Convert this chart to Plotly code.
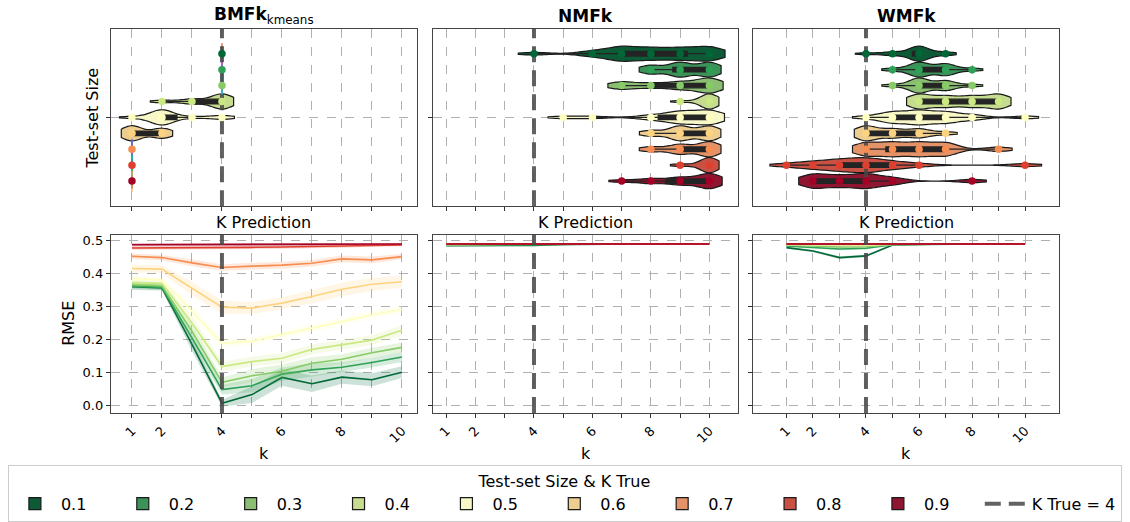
import colorsys
import numpy as np
import plotly.graph_objects as go
from plotly.subplots import make_subplots

# ---------------- data ----------------
METHOD_TITLES = ["<b>BMFk</b><sub>kmeans</sub>", "<b>NMFk</b>", "<b>WMFk</b>"]
TEST_SIZES = ["0.1", "0.2", "0.3", "0.4", "0.5", "0.6", "0.7", "0.8", "0.9"]
K_VALUES = [1, 2, 3, 4, 5, 6, 7, 8, 9, 10]
K_LABELLED = [1, 2, 4, 6, 8, 10]
K_TRUE = 4

# number of runs predicting k = 1..10, one row per test-set size
BMFK_K_COUNTS = [
    [0, 0, 0, 10, 0, 0, 0, 0, 0, 0],
    [0, 0, 0, 10, 0, 0, 0, 0, 0, 0],
    [0, 0, 0, 10, 0, 0, 0, 0, 0, 0],
    [0, 1, 2, 6, 0, 0, 0, 0, 0, 0],
    [1, 8, 1, 2, 0, 0, 0, 0, 0, 0],
    [6, 4, 0, 0, 0, 0, 0, 0, 0, 0],
    [10, 0, 0, 0, 0, 0, 0, 0, 0, 0],
    [10, 0, 0, 0, 0, 0, 0, 0, 0, 0],
    [10, 0, 0, 0, 0, 0, 0, 0, 0, 0],
]
NMFK_K_COUNTS = [
    [0, 0, 0, 1, 0, 2, 5, 4, 4, 5],
    [0, 0, 0, 0, 0, 0, 0, 3, 5, 5],
    [0, 0, 0, 0, 0, 0, 3, 2, 3, 6],
    [0, 0, 0, 0, 0, 0, 0, 0, 1, 8],
    [0, 0, 0, 0, 1, 1, 0, 2, 5, 6],
    [0, 0, 0, 0, 0, 0, 0, 2, 5, 5],
    [0, 0, 0, 0, 0, 0, 0, 2, 4, 6],
    [0, 0, 0, 0, 0, 0, 0, 0, 1, 6],
    [0, 0, 0, 0, 0, 0, 1, 2, 3, 6],
]
WMFK_K_COUNTS = [
    [0, 0, 0, 1, 2, 8, 2, 0, 0, 0],
    [0, 0, 0, 0, 1, 5, 4, 1, 0, 0],
    [0, 0, 0, 0, 1, 6, 4, 1, 0, 0],
    [0, 0, 0, 0, 0, 4, 3, 3, 4, 0],
    [0, 0, 0, 1, 4, 5, 4, 2, 0, 1],
    [0, 0, 0, 5, 3, 3, 1, 0, 0, 0],
    [0, 0, 0, 3, 3, 3, 3, 0, 1, 0],
    [1, 2, 3, 4, 2, 1, 0, 0, 0, 1],
    [0, 4, 3, 4, 2, 0, 0, 1, 0, 0],
]

# mean RMSE for k = 1..10, one row per test-set size
BMFK_RMSE = [
    [0.360, 0.356, 0.185, 0.007, 0.033, 0.085, 0.066, 0.086, 0.078, 0.101],
    [0.362, 0.358, 0.205, 0.048, 0.060, 0.095, 0.108, 0.116, 0.130, 0.147],
    [0.366, 0.363, 0.225, 0.070, 0.090, 0.104, 0.128, 0.140, 0.160, 0.176],
    [0.373, 0.370, 0.250, 0.118, 0.133, 0.143, 0.170, 0.185, 0.198, 0.228],
    [0.385, 0.380, 0.285, 0.188, 0.195, 0.214, 0.234, 0.254, 0.275, 0.291],
    [0.415, 0.413, 0.355, 0.298, 0.295, 0.310, 0.330, 0.352, 0.367, 0.375],
    [0.452, 0.448, 0.432, 0.418, 0.422, 0.425, 0.431, 0.444, 0.441, 0.451],
    [0.477, 0.477, 0.478, 0.478, 0.479, 0.480, 0.481, 0.483, 0.485, 0.486],
    [0.487, 0.487, 0.487, 0.488, 0.488, 0.488, 0.488, 0.489, 0.489, 0.489],
]
BMFK_RMSE_CI = [
    [0.010, 0.008, 0.020, 0.010, 0.025, 0.025, 0.025, 0.020, 0.020, 0.018],
    [0.008, 0.008, 0.020, 0.015, 0.020, 0.020, 0.020, 0.015, 0.015, 0.015],
    [0.008, 0.008, 0.020, 0.015, 0.020, 0.020, 0.018, 0.015, 0.015, 0.015],
    [0.008, 0.008, 0.020, 0.015, 0.015, 0.015, 0.015, 0.015, 0.015, 0.015],
    [0.008, 0.008, 0.020, 0.012, 0.012, 0.012, 0.012, 0.012, 0.012, 0.012],
    [0.012, 0.012, 0.020, 0.020, 0.018, 0.018, 0.020, 0.020, 0.020, 0.018],
    [0.008, 0.008, 0.010, 0.010, 0.010, 0.010, 0.010, 0.010, 0.010, 0.008],
    [0.005, 0.005, 0.005, 0.005, 0.005, 0.005, 0.005, 0.005, 0.004, 0.004],
    [0.005, 0.005, 0.004, 0.004, 0.004, 0.004, 0.004, 0.003, 0.003, 0.003],
]
NMFK_RMSE = [
    [0.484, 0.484, 0.484, 0.485, 0.488, 0.489, 0.489, 0.489, 0.489, 0.489],
    [0.486, 0.486, 0.486, 0.487, 0.488, 0.489, 0.489, 0.489, 0.489, 0.489],
    [0.487, 0.487, 0.487, 0.488, 0.489, 0.489, 0.489, 0.489, 0.489, 0.489],
    [0.488, 0.488, 0.488, 0.488, 0.489, 0.489, 0.489, 0.489, 0.489, 0.489],
    [0.488, 0.488, 0.488, 0.489, 0.489, 0.489, 0.489, 0.489, 0.489, 0.489],
    [0.489, 0.489, 0.489, 0.489, 0.489, 0.489, 0.489, 0.489, 0.489, 0.489],
    [0.489, 0.489, 0.489, 0.489, 0.489, 0.489, 0.489, 0.489, 0.489, 0.489],
    [0.489, 0.489, 0.489, 0.489, 0.489, 0.489, 0.489, 0.489, 0.489, 0.489],
    [0.489, 0.489, 0.489, 0.489, 0.489, 0.489, 0.489, 0.489, 0.489, 0.489],
]
NMFK_RMSE_CI = [
    [0.002, 0.002, 0.002, 0.002, 0.001, 0.001, 0.001, 0.001, 0.001, 0.001],
] + [[0.001] * 10 for _ in range(8)]
WMFK_RMSE = [
    [0.478, 0.468, 0.448, 0.453, 0.486, 0.488, 0.489, 0.489, 0.489, 0.489],
    [0.483, 0.479, 0.474, 0.476, 0.487, 0.488, 0.489, 0.489, 0.489, 0.489],
    [0.486, 0.483, 0.480, 0.481, 0.488, 0.489, 0.489, 0.489, 0.489, 0.489],
    [0.487, 0.486, 0.484, 0.485, 0.488, 0.489, 0.489, 0.489, 0.489, 0.489],
    [0.488, 0.487, 0.486, 0.487, 0.489, 0.489, 0.489, 0.489, 0.489, 0.489],
    [0.489, 0.488, 0.488, 0.488, 0.489, 0.489, 0.489, 0.489, 0.489, 0.489],
    [0.489, 0.489, 0.489, 0.489, 0.489, 0.489, 0.489, 0.489, 0.489, 0.489],
    [0.489, 0.489, 0.489, 0.489, 0.489, 0.489, 0.489, 0.489, 0.489, 0.489],
    [0.489, 0.489, 0.489, 0.489, 0.489, 0.489, 0.489, 0.489, 0.489, 0.489],
]
WMFK_RMSE_CI = [
    [0.003, 0.004, 0.004, 0.004, 0.002, 0.001, 0.001, 0.001, 0.001, 0.001],
    [0.003, 0.004, 0.004, 0.004, 0.002, 0.001, 0.001, 0.001, 0.001, 0.001],
    [0.003, 0.003, 0.003, 0.003, 0.002, 0.001, 0.001, 0.001, 0.001, 0.001],
] + [[0.001] * 10 for _ in range(6)]

K_COUNTS = [BMFK_K_COUNTS, NMFK_K_COUNTS, WMFK_K_COUNTS]
RMSE = [BMFK_RMSE, NMFK_RMSE, WMFK_RMSE]
RMSE_CI = [BMFK_RMSE_CI, NMFK_RMSE_CI, WMFK_RMSE_CI]

# ---------------- style ----------------
PALETTE = ["#006837", "#2da155", "#86cb66", "#cbe982", "#ffffbf",
           "#fed380", "#f88d52", "#de3f2e", "#a50026"]
FONT = "DejaVu Sans"
GRID = "#b0b0b0"
SPINE = "#444444"
KLINE_COLOR = "rgba(70,70,70,0.85)"
X_RANGES = [[0.3, 10.5], [0.545, 10.98], [-0.26, 11.28]]
X_DOMAINS = [[0.0982, 0.3690], [0.3832, 0.6531], [0.6664, 0.9372]]
TOP_DOMAIN = [0.6073, 0.9489]
BOT_DOMAIN = [0.2094, 0.5517]
TOP_Y_RANGE = [9.58, -1.58]
BOT_Y_RANGE = [-0.023, 0.516]
LEGEND_PAD = "\u00a0" * 5


def hex_rgb(h):
    h = h.lstrip("#")
    return tuple(int(h[i:i + 2], 16) for i in (0, 2, 4))


def desaturate(h, prop=0.75):
    r, g, b = [v / 255 for v in hex_rgb(h)]
    hh, ll, ss = colorsys.rgb_to_hls(r, g, b)
    r, g, b = colorsys.hls_to_rgb(hh, ll, ss * prop)
    return "rgb(%d,%d,%d)" % (round(r * 255), round(g * 255), round(b * 255))


def rgba(h, a):
    r, g, b = hex_rgb(h)
    return "rgba(%d,%d,%d,%s)" % (r, g, b, a)


fig = make_subplots(rows=2, cols=3)

for c in range(3):
    # ---- top row: violins of predicted k ----
    for i, size in enumerate(TEST_SIZES):
        counts = K_COUNTS[c][i]
        vals = np.repeat(K_VALUES, counts)
        spread = len(set(vals.tolist())) > 1
        vkw = {}
        if spread:
            bw = 0.25 + 0.15 * float(np.std(vals))
            ext = 1.1 * bw
            vkw = dict(bandwidth=bw, spanmode="manual",
                       span=[float(vals.min()) - ext, float(vals.max()) + ext])
        fig.add_trace(go.Violin(
            x=vals, y0=i, orientation="h", name=size + LEGEND_PAD, legendgroup=size,
            showlegend=(c == 0), fillcolor=desaturate(PALETTE[i]),
            line=dict(color="#1a1a1a", width=1.2), width=0.95,
            scalemode="width", points=False,
            box=dict(visible=True, width=0.3, fillcolor="#242424",
                     line=dict(color="#242424", width=1.3)),
            meanline=dict(visible=False), hoverinfo="skip", **vkw),
            row=1, col=c + 1)
        if not spread:
            # a single repeated prediction is drawn as a flat line, like the reference
            fig.add_trace(go.Scatter(
                x=[vals[0]], y=[i], mode="markers", showlegend=False,
                marker=dict(symbol="line-ns-open", size=15,
                            line=dict(color="#1a1a1a", width=1.3)),
                hoverinfo="skip"), row=1, col=c + 1)
    fig.add_trace(go.Scatter(
        x=[K_TRUE, K_TRUE], y=TOP_Y_RANGE, mode="lines", name="K True = 4",
        showlegend=(c == 0), line=dict(color=KLINE_COLOR, width=4, dash="16px,8px"),
        hoverinfo="skip"), row=1, col=c + 1)
    for i, size in enumerate(TEST_SIZES):
        counts = K_COUNTS[c][i]
        ks = [k for k, n in zip(K_VALUES, counts) if n > 0]
        fig.add_trace(go.Scatter(
            x=ks, y=[i] * len(ks), mode="markers", showlegend=False,
            marker=dict(color=PALETTE[i], size=7.5, line=dict(width=0)),
            hoverinfo="skip"), row=1, col=c + 1)

    # ---- bottom row: RMSE vs k ----
    for i, size in enumerate(TEST_SIZES):
        mean = np.array(RMSE[c][i])
        ci = np.array(RMSE_CI[c][i])
        fig.add_trace(go.Scatter(
            x=K_VALUES, y=mean - ci, mode="lines", line=dict(width=0),
            showlegend=False, hoverinfo="skip"), row=2, col=c + 1)
        fig.add_trace(go.Scatter(
            x=K_VALUES, y=mean + ci, mode="lines", line=dict(width=0),
            fill="tonexty", fillcolor=rgba(PALETTE[i], 0.2),
            showlegend=False, hoverinfo="skip"), row=2, col=c + 1)
        fig.add_trace(go.Scatter(
            x=K_VALUES, y=mean, mode="lines", line=dict(color=PALETTE[i], width=1.6),
            showlegend=False, hoverinfo="skip"), row=2, col=c + 1)
    fig.add_trace(go.Scatter(
        x=[K_TRUE, K_TRUE], y=BOT_Y_RANGE, mode="lines", showlegend=False,
        line=dict(color=KLINE_COLOR, width=4, dash="16px,8px"),
        hoverinfo="skip"), row=2, col=c + 1)

axis_common = dict(showline=True, mirror=True, linecolor=SPINE, linewidth=1.3,
                   ticks="outside", ticklen=4, tickwidth=1, tickcolor="#333",
                   showgrid=True, gridcolor=GRID, griddash="dash", gridwidth=0.8,
                   zeroline=False, tickfont=dict(family=FONT, size=13, color="black"))
minor_k = dict(tickvals=[k for k in K_VALUES if k not in K_LABELLED], ticks="outside",
               ticklen=4, tickwidth=1, tickcolor="#333", showgrid=True,
               gridcolor=GRID, griddash="dash", gridwidth=0.8)

for c in range(3):
    top_x = "xaxis" if c == 0 else "xaxis%d" % (c + 1)
    top_y = "yaxis" if c == 0 else "yaxis%d" % (c + 1)
    bot_x = "xaxis%d" % (c + 4)
    bot_y = "yaxis%d" % (c + 4)
    fig.layout[top_x].update(domain=X_DOMAINS[c], range=X_RANGES[c], tickvals=K_VALUES,
                             showticklabels=False, anchor="y" if c == 0 else "y%d" % (c + 1),
                             **axis_common)
    fig.layout[bot_x].update(domain=X_DOMAINS[c], range=X_RANGES[c], tickmode="array",
                             tickvals=K_LABELLED, ticktext=[str(k) for k in K_LABELLED],
                             tickangle=-45, minor=minor_k,
                             anchor="y%d" % (c + 4), **axis_common)
    fig.layout[top_y].update(domain=TOP_DOMAIN, range=TOP_Y_RANGE, type="linear",
                             tickvals=[TEST_SIZES.index("0.5")], showticklabels=False,
                             anchor="x" if c == 0 else "x%d" % (c + 1), **axis_common)
    fig.layout[bot_y].update(domain=BOT_DOMAIN, range=BOT_Y_RANGE, tick0=0, dtick=0.1,
                             tickformat=".1f", showticklabels=(c == 0),
                             anchor="x%d" % (c + 4), **axis_common)

centers = [(d[0] + d[1]) / 2 for d in X_DOMAINS]
ann = []
for c in range(3):
    ann.append(dict(text=METHOD_TITLES[c], x=centers[c], y=0.9732, xref="paper", yref="paper",
                    showarrow=False, font=dict(family=FONT, size=17, color="black"),
                    xanchor="center", yanchor="middle"))
    ann.append(dict(text="K Prediction", x=centers[c], y=0.5766, xref="paper", yref="paper",
                    showarrow=False, font=dict(family=FONT, size=16, color="black"),
                    xanchor="center", yanchor="middle"))
    ann.append(dict(text="k", x=centers[c], y=0.1322, xref="paper", yref="paper",
                    showarrow=False, font=dict(family=FONT, size=16, color="black"),
                    xanchor="center", yanchor="middle"))
ann.append(dict(text="Test-set Size", x=0.0823, y=0.7778, xref="paper", yref="paper",
                textangle=-90, showarrow=False, font=dict(family=FONT, size=16, color="black"),
                xanchor="center", yanchor="middle"))
ann.append(dict(text="RMSE", x=0.0611, y=0.3812, xref="paper", yref="paper",
                textangle=-90, showarrow=False, font=dict(family=FONT, size=16, color="black"),
                xanchor="center", yanchor="middle"))

fig.update_layout(
    width=1130, height=522, margin=dict(l=0, r=0, t=0, b=0),
    paper_bgcolor="white", plot_bgcolor="white",
    violinmode="overlay",
    font=dict(family=FONT, size=13, color="black"),
    annotations=ann,
    legend=dict(orientation="h", x=0.007, y=0.109, xanchor="left", yanchor="top",
                bordercolor="#cccccc", borderwidth=1, bgcolor="white",
                font=dict(family=FONT, size=16, color="black"),
                title=dict(text="Test-set Size & K True", side="top center",
                           font=dict(family=FONT, size=16, color="black")),
                itemwidth=42, traceorder="normal"),
)

fig.write_html("out.html")
